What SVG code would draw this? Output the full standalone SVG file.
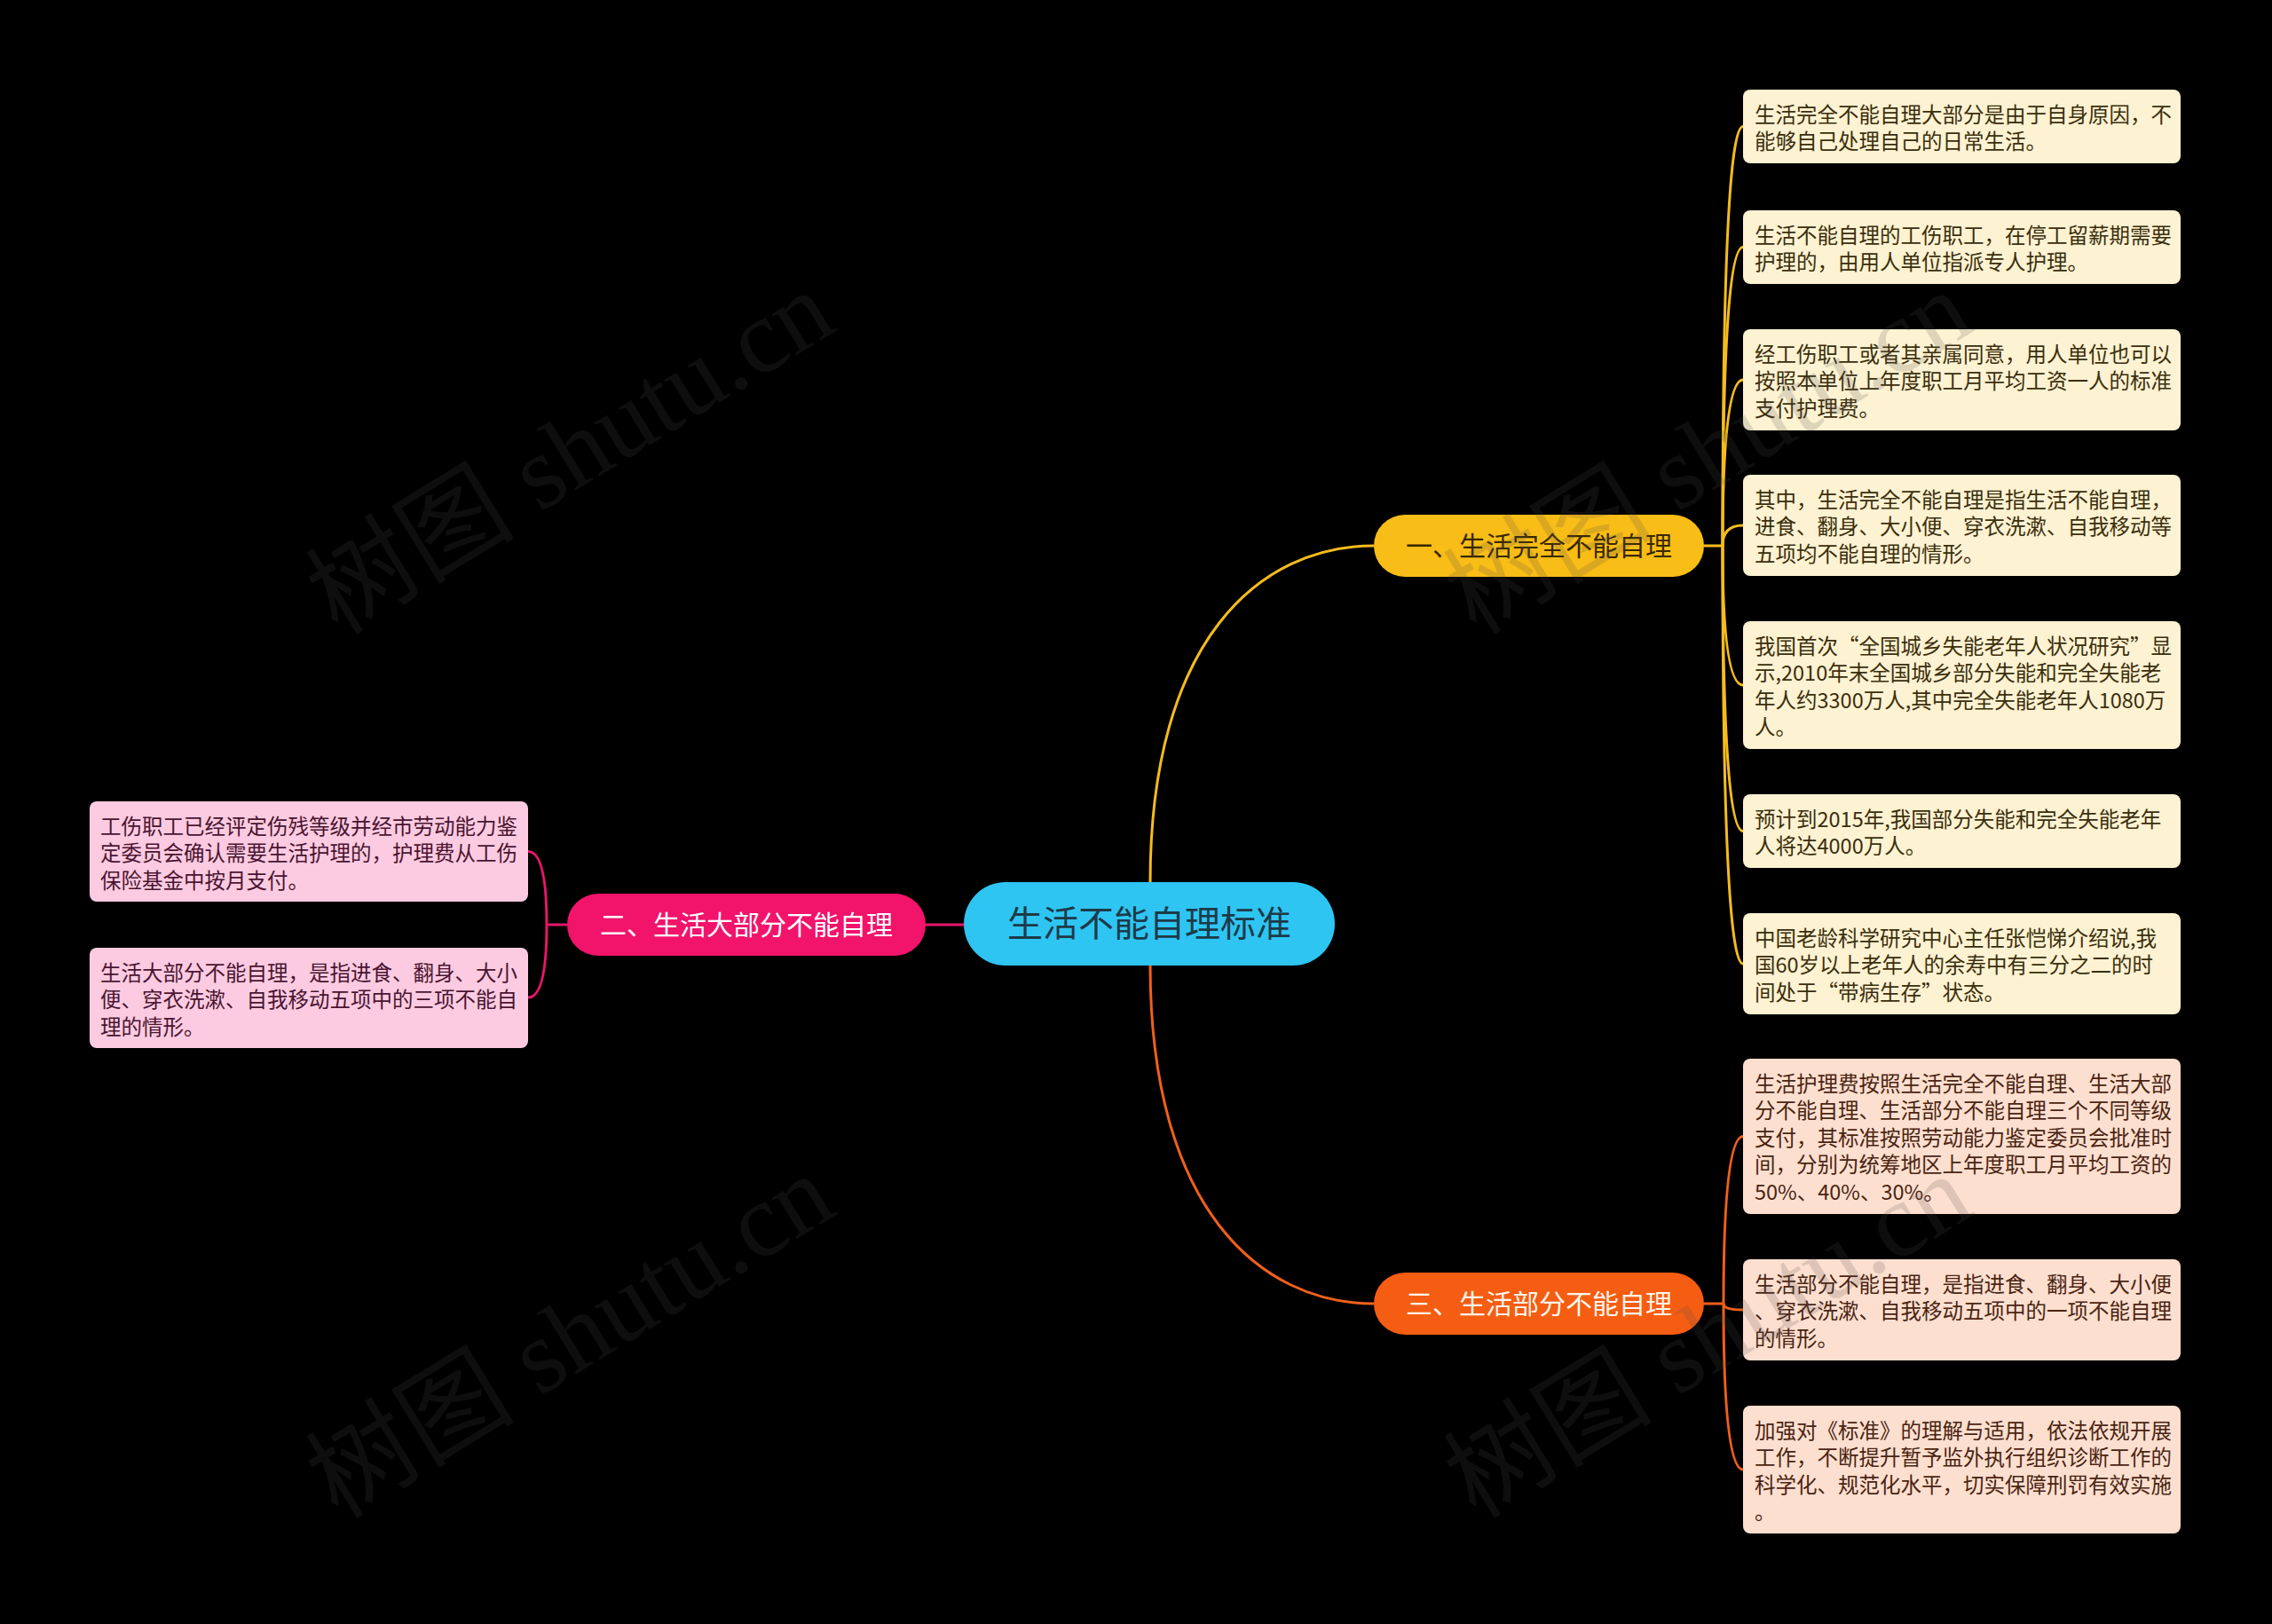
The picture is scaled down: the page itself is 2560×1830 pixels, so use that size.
<svg xmlns="http://www.w3.org/2000/svg" width="2560" height="1830" viewBox="0 0 2560 1830">
<style>
.bg{fill:#000}
.by{fill:#fdf2d2}
.bo{fill:#fddfcf}
.bp{fill:#fccbe1}
.t{font-family:"Noto Sans CJK SC","Noto Sans",sans-serif;font-size:23.5px}
.ty{fill:#3b2e0c}
.to{fill:#4a2412}
.tp{fill:#4a1430}
.bt{font-family:"Noto Sans CJK SC","Noto Sans",sans-serif;font-size:30px;text-anchor:middle}
.cy{fill:none;stroke:#f6bc1c;stroke-width:3}
.co{fill:none;stroke:#f0601a;stroke-width:3}
.cp{fill:none;stroke:#e8166a;stroke-width:3}
.wm{font-family:"Liberation Serif","Noto Sans CJK SC",serif;font-size:118px;fill:#505050;opacity:.18;text-anchor:middle}
</style>
<rect class="bg" x="0" y="0" width="2560" height="1830"/>
<g id="connectors">
<path class="cy" d="M1296 994 C1296 720 1420 615 1548 615"/>
<path class="cy" d="M1920 615 L1941 615"/>
<path class="cy" d="M1941 615 Q1941 142.5 1964 142.5"/>
<path class="cy" d="M1941 615 Q1941 278.5 1964 278.5"/>
<path class="cy" d="M1941 615 Q1941 428 1964 428"/>
<path class="cy" d="M1941 615 Q1941 592 1964 592"/>
<path class="cy" d="M1941 615 Q1941 772 1964 772"/>
<path class="cy" d="M1941 615 Q1941 936.5 1964 936.5"/>
<path class="cy" d="M1941 615 Q1941 1086 1964 1086"/>
<path class="co" d="M1296 1088 C1296 1362 1420 1469 1548 1469"/>
<path class="co" d="M1920 1469 L1942 1469"/>
<path class="co" d="M1942 1469 Q1942 1280.5 1964 1280.5"/>
<path class="co" d="M1942 1469 Q1942 1476 1964 1476"/>
<path class="co" d="M1942 1469 Q1942 1656 1964 1656"/>
<path class="cp" d="M1086 1042 L1043 1042"/>
<path class="cp" d="M639 1042 L616 1042"/>
<path class="cp" d="M616 1042 Q616 959.5 595 959.5"/>
<path class="cp" d="M616 1042 Q616 1124 595 1124"/>
</g>
<g id="root">
<rect x="1086" y="994" width="418" height="94" rx="47" fill="#2ec5f3"/>
<text x="1295" y="1055" font-family="Noto Sans CJK SC, Noto Sans, sans-serif" font-size="40" text-anchor="middle" fill="#1d3a48">生活不能自理标准</text>
</g>
<g id="branch1">
<rect x="1548" y="580" width="372" height="70" rx="35" fill="#f8bd16"/>
<text class="bt" x="1734" y="626" fill="#3a2800">一、生活完全不能自理</text>
</g>
<g id="branch2">
<rect x="639" y="1007" width="404" height="70" rx="35" fill="#f2136b"/>
<text class="bt" x="841" y="1053" fill="#fff">二、生活大部分不能自理</text>
</g>
<g id="branch3">
<rect x="1548" y="1434" width="372" height="70" rx="35" fill="#f55d12"/>
<text class="bt" x="1734" y="1480" fill="#fff4ea">三、生活部分不能自理</text>
</g>
<g id="y1"><rect class="by" x="1964" y="101" width="493" height="83" rx="8"/>
<text class="t ty" x="1977" y="137.5"><tspan x="1977">生活完全不能自理大部分是由于自身原因，不</tspan><tspan x="1977" dy="30.5">能够自己处理自己的日常生活。</tspan></text></g>
<g id="y2"><rect class="by" x="1964" y="237" width="493" height="83" rx="8"/>
<text class="t ty" x="1977" y="273.5"><tspan x="1977">生活不能自理的工伤职工，在停工留薪期需要</tspan><tspan x="1977" dy="30.5">护理的，由用人单位指派专人护理。</tspan></text></g>
<g id="y3"><rect class="by" x="1964" y="371" width="493" height="114" rx="8"/>
<text class="t ty" x="1977" y="407.5"><tspan x="1977">经工伤职工或者其亲属同意，用人单位也可以</tspan><tspan x="1977" dy="30.5">按照本单位上年度职工月平均工资一人的标准</tspan><tspan x="1977" dy="30.5">支付护理费。</tspan></text></g>
<g id="y4"><rect class="by" x="1964" y="535" width="493" height="114" rx="8"/>
<text class="t ty" x="1977" y="571.5"><tspan x="1977">其中，生活完全不能自理是指生活不能自理，</tspan><tspan x="1977" dy="30.5">进食、翻身、大小便、穿衣洗漱、自我移动等</tspan><tspan x="1977" dy="30.5">五项均不能自理的情形。</tspan></text></g>
<g id="y5"><rect class="by" x="1964" y="700" width="493" height="144" rx="8"/>
<text class="t ty" x="1977" y="736.5"><tspan x="1977">我国首次“全国城乡失能老年人状况研究”显</tspan><tspan x="1977" dy="30.5">示,2010年末全国城乡部分失能和完全失能老</tspan><tspan x="1977" dy="30.5">年人约3300万人,其中完全失能老年人1080万</tspan><tspan x="1977" dy="30.5">人。</tspan></text></g>
<g id="y6"><rect class="by" x="1964" y="895" width="493" height="83" rx="8"/>
<text class="t ty" x="1977" y="931.5"><tspan x="1977">预计到2015年,我国部分失能和完全失能老年</tspan><tspan x="1977" dy="30.5">人将达4000万人。</tspan></text></g>
<g id="y7"><rect class="by" x="1964" y="1029" width="493" height="114" rx="8"/>
<text class="t ty" x="1977" y="1065.5"><tspan x="1977">中国老龄科学研究中心主任张恺悌介绍说,我</tspan><tspan x="1977" dy="30.5">国60岁以上老年人的余寿中有三分之二的时</tspan><tspan x="1977" dy="30.5">间处于“带病生存”状态。</tspan></text></g>
<g id="o1"><rect class="bo" x="1964" y="1193" width="493" height="175" rx="8"/>
<text class="t to" x="1977" y="1229.5"><tspan x="1977">生活护理费按照生活完全不能自理、生活大部</tspan><tspan x="1977" dy="30.5">分不能自理、生活部分不能自理三个不同等级</tspan><tspan x="1977" dy="30.5">支付，其标准按照劳动能力鉴定委员会批准时</tspan><tspan x="1977" dy="30.5">间，分别为统筹地区上年度职工月平均工资的</tspan><tspan x="1977" dy="30.5">50%、40%、30%。</tspan></text></g>
<g id="o2"><rect class="bo" x="1964" y="1419" width="493" height="114" rx="8"/>
<text class="t to" x="1977" y="1455.5"><tspan x="1977">生活部分不能自理，是指进食、翻身、大小便</tspan><tspan x="1977" dy="30.5">、穿衣洗漱、自我移动五项中的一项不能自理</tspan><tspan x="1977" dy="30.5">的情形。</tspan></text></g>
<g id="o3"><rect class="bo" x="1964" y="1584" width="493" height="144" rx="8"/>
<text class="t to" x="1977" y="1620.5"><tspan x="1977">加强对《标准》的理解与适用，依法依规开展</tspan><tspan x="1977" dy="30.5">工作，不断提升暂予监外执行组织诊断工作的</tspan><tspan x="1977" dy="30.5">科学化、规范化水平，切实保障刑罚有效实施</tspan><tspan x="1977" dy="30.5">。</tspan></text></g>
<g id="p1"><rect class="bp" x="101" y="903" width="494" height="113" rx="8"/>
<text class="t tp" x="113" y="939.5"><tspan x="113">工伤职工已经评定伤残等级并经市劳动能力鉴</tspan><tspan x="113" dy="30.5">定委员会确认需要生活护理的，护理费从工伤</tspan><tspan x="113" dy="30.5">保险基金中按月支付。</tspan></text></g>
<g id="p2"><rect class="bp" x="101" y="1068" width="494" height="113" rx="8"/>
<text class="t tp" x="113" y="1104.5"><tspan x="113">生活大部分不能自理，是指进食、翻身、大小</tspan><tspan x="113" dy="30.5">便、穿衣洗漱、自我移动五项中的三项不能自</tspan><tspan x="113" dy="30.5">理的情形。</tspan></text></g>
<g id="watermarks">
<text class="wm" x="645" y="549" transform="rotate(-31.5 645 514)">树图 shutu.cn</text>
<text class="wm" x="645" y="1545" transform="rotate(-31.5 645 1510)">树图 shutu.cn</text>
<text class="wm" x="1927" y="549" transform="rotate(-31.5 1927 514)">树图 shutu.cn</text>
<text class="wm" x="1927" y="1545" transform="rotate(-31.5 1927 1510)">树图 shutu.cn</text>
</g>
</svg>
